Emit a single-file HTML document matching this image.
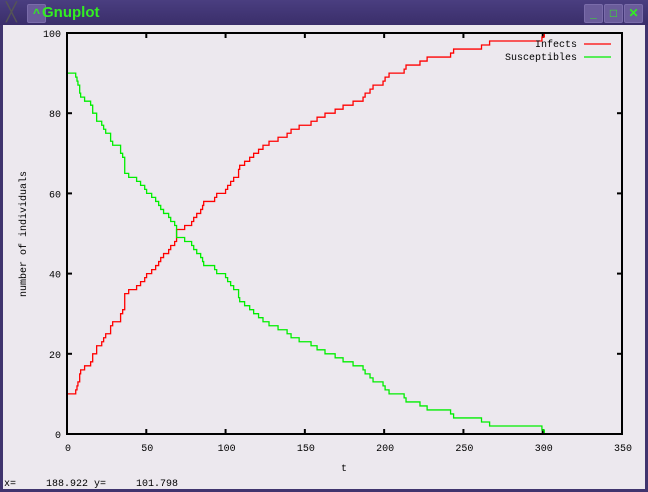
<!DOCTYPE html>
<html><head><meta charset="utf-8"><style>
html,body{margin:0;padding:0;width:648px;height:492px;overflow:hidden;background:#3a2e6a;}
#win{position:absolute;left:0;top:0;width:648px;height:492px;background:#40346e;}
#titlebar{position:absolute;left:0;top:0;width:648px;height:25px;background:linear-gradient(#4a3e80,#3a2e6a);}
#title{position:absolute;left:42px;top:4px;font:bold 15px "Liberation Sans",sans-serif;color:#33ee22;}
.btn{position:absolute;top:4px;width:17px;height:17px;overflow:hidden;background:#6a5c9a;border:1px solid #7a6caa;border-radius:2px;color:#33ee22;font:bold 12px "Liberation Sans",sans-serif;text-align:center;line-height:17px;}
#content{position:absolute;left:3px;top:25px;width:642px;height:464px;background:#ece8ee;}
svg{position:absolute;left:0;top:0;}
text{font-family:"Liberation Mono",monospace;font-size:10px;fill:#000;white-space:pre;}
</style></head><body>
<div id="win">
<div id="titlebar">
<div style="position:absolute;left:6px;top:2px;color:#555;font:18px 'Liberation Sans',sans-serif;">╳</div>
<div class="btn" style="left:27px;">^</div>
<div id="title">Gnuplot</div>
<div class="btn" style="left:584px;">_</div>
<div class="btn" style="left:604px;">□</div>
<div class="btn" style="left:624px;">✕</div>
</div>
<div id="content"></div>
<svg id="chart" width="648" height="492"></svg>
</div>
<script>
const xTicks=[0,50,100,150,200,250,300,350];
const yTicks=[0,20,40,60,80,100];
const stepTimes=[0,5.5,6.3,6.9,8.0,8.6,11.1,14.9,16.2,18.7,21.9,23.1,24.4,27.5,28.8,33.8,35.1,36.4,38.9,43.9,46.4,49.0,50.2,53.4,55.9,57.8,59.1,60.9,64.1,65.4,67.9,69.1,74.2,78.6,79.9,81.8,84.3,85.5,86.2,93.1,94.4,100.0,101.3,103.2,105.1,108.2,108.9,112.0,115.2,117.7,120.8,123.6,127.4,133.1,138.8,141.3,146.4,153.9,157.7,162.7,169.1,174.1,180.4,186.7,188.0,191.1,193.0,199.3,200.6,203.1,212.6,213.8,222.6,227.1,241.9,243.8,261.4,266.5,299.5,301.0];
const infects=[10,11,12,13,15,16,17,18,20,22,23,24,25,27,28,30,31,35,36,37,38,39,40,41,42,43,44,45,46,47,48,51,52,53,54,55,56,57,58,59,60,61,62,63,64,66,67,68,69,70,71,72,73,74,75,76,77,78,79,80,81,82,83,84,85,86,87,88,89,90,91,92,93,94,95,96,97,98,99,100];
const susceptibles=[90,89,88,87,85,84,83,82,80,78,77,76,75,73,72,70,69,65,64,63,62,61,60,59,58,57,56,55,54,53,52,49,48,47,46,45,44,43,42,41,40,39,38,37,36,34,33,32,31,30,29,28,27,26,25,24,23,22,21,20,19,18,17,16,15,14,13,12,11,10,9,8,7,6,5,4,3,2,1,0];
const endTime=301.0;

const svg=document.getElementById('chart');
const NS='http://www.w3.org/2000/svg';
const X0=67,X1=622,Y0=434,Y1=33;
const sx=t=>X0+(t-0)/350*(X1-X0);
const sy=v=>Y0-(v-0)/100*(Y0-Y1);
function mk(tag,attrs){const e=document.createElementNS(NS,tag);for(const k in attrs)e.setAttribute(k,attrs[k]);svg.appendChild(e);return e;}

xTicks.forEach(t=>{
  const a=mk('line',{x1:sx(t),x2:sx(t),y1:Y0,y2:Y0-5,stroke:'#000','stroke-width':2});
  
  
  const b=mk('line',{x1:sx(t),x2:sx(t),y1:Y1,y2:Y1+5,stroke:'#000','stroke-width':2});
  
  
  const l=mk('text',{x:sx(t)+1,y:451,'text-anchor':'middle'});l.textContent=t;
  
  
});
yTicks.forEach(v=>{
  const a=mk('line',{x1:X0,x2:X0+5,y1:sy(v),y2:sy(v),stroke:'#000','stroke-width':2});
  
  
  const b=mk('line',{x1:X1,x2:X1-5,y1:sy(v),y2:sy(v),stroke:'#000','stroke-width':2});
  
  
  const l=mk('text',{x:61,y:sy(v)+4,'text-anchor':'end'});l.textContent=v;
  
  
});

function stepPath(vals){
  let d='M'+sx(stepTimes[0])+','+sy(vals[0]);
  for(let i=1;i<stepTimes.length;i++){d+=' H'+sx(stepTimes[i])+' V'+sy(vals[i]);}
  d+=' H'+sx(endTime);
  return d;
}
const pi=mk('path',{d:stepPath(infects),fill:'none',stroke:'#ff0000','stroke-width':1.3});


const ps=mk('path',{d:stepPath(susceptibles),fill:'none',stroke:'#00ee00','stroke-width':1.3});



const fr=mk('rect',{x:X0,y:Y1,width:X1-X0,height:Y0-Y1,fill:'none',stroke:'#000','stroke-width':2});



const lt1=mk('text',{x:577,y:47,'text-anchor':'end'});lt1.textContent='Infects';


const ll1=mk('line',{x1:584,x2:611,y1:44,y2:44,stroke:'#ff0000','stroke-width':1.3});


const lt2=mk('text',{x:577,y:60,'text-anchor':'end'});lt2.textContent='Susceptibles';


const ll2=mk('line',{x1:584,x2:611,y1:57,y2:57,stroke:'#00ee00','stroke-width':1.3});



const xt=mk('text',{x:344,y:471,'text-anchor':'middle'});xt.textContent='t';


const yt=mk('text',{x:0,y:0,'text-anchor':'middle',transform:'translate(26,234) rotate(-90)'});yt.textContent='number of individuals';


const st=mk('text',{x:4,y:486});st.textContent='x=     188.922 y=     101.798';


</script>
</body></html>
